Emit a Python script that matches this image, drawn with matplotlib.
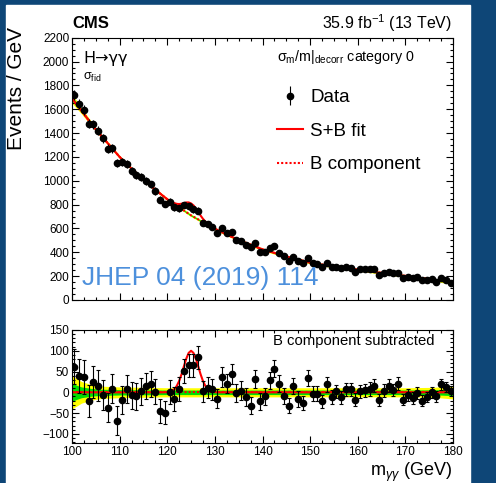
import numpy as np
import matplotlib.pyplot as plt
from matplotlib.ticker import MultipleLocator
from matplotlib.lines import Line2D
from matplotlib.patches import Rectangle

plt.rcParams['font.family'] = ['Liberation Sans', 'DejaVu Sans']
plt.rcParams['mathtext.fontset'] = 'custom'
plt.rcParams['mathtext.rm'] = 'Liberation Sans'
plt.rcParams['mathtext.it'] = 'Liberation Sans:italic'
plt.rcParams['mathtext.bf'] = 'Liberation Sans:bold'

# diphoton mass bins, 1 GeV wide
mgg = np.arange(100.5, 180.0, 1.0)

events = [1720, 1645, 1595, 1480, 1475, 1420, 1355, 1270, 1272, 1148,
          1160, 1140, 1085, 1050, 1030, 1000, 970, 915, 840, 805,
          825, 778, 770, 797, 785, 760, 750, 648, 637, 610,
          565, 600, 565, 573, 505, 497, 462, 447, 475, 405,
          405, 433, 453, 397, 365, 330, 364, 330, 307, 350,
          307, 299, 280, 307, 274, 274, 265, 274, 265, 238,
          257, 257, 257, 257, 210, 229, 238, 224, 229, 187,
          196, 187, 190, 168, 168, 173, 154, 182, 168, 145]

# data minus background fit
resid = [62, 39, 37, -20, 24, 16, -6, -37, 9, -68,
         -18, 7, -7, -10, 2, 16, 19, 1, -46, -49,
         0, -16, 8, 51, 65, 65, 84, 2, 11, 7,
         -15, 37, 21, 45, -2, 4, -11, -32, 31, -22,
         -10, 29, 57, 21, -8, -32, 16, -16, -26, 35,
         -3, -3, -22, 19, -11, 2, -12, 7, 7, -18,
         2, 5, 8, 16, -18, 4, 16, 5, 21, -18,
         -7, -14, -2, -20, -11, 0, -10, 19, 13, 4]

# background component of the fit
bkg_mass = [100, 105, 110, 115, 120, 125, 130, 135, 140, 145, 150, 155, 160, 165, 170, 175, 180]
bkg_vals = [1690, 1430, 1200, 1005, 845, 710, 597, 503, 425, 365, 313, 280, 254, 227, 202, 175, 146]

# signal component
sig_mass = [119, 119.5, 120, 120.5, 121, 121.5, 122, 122.5, 123, 123.5, 124, 124.5, 125,
            125.5, 126, 126.5, 127, 127.5, 128, 128.5, 129, 129.5, 130, 130.5, 131]
sig_vals = [0, 0.2, 0.5, 1.5, 3.6, 7.8, 15.4, 27.2, 43.5, 62.6, 81.2, 94.9, 100,
            94.9, 81.2, 62.6, 43.5, 27.2, 15.4, 7.8, 3.6, 1.5, 0.5, 0.2, 0]

# background uncertainty bands (half widths)
band_mass = [100, 101, 102, 104, 106, 110, 120, 140, 160, 170, 176, 180]
band_2s = [40, 33, 26, 19, 15, 13, 11, 11, 11, 11, 12, 16]
band_1s = [22, 17, 13, 9.5, 7.5, 6.5, 5.5, 5.5, 5.5, 5.5, 6, 8]

events = np.array(events, dtype=float)
resid = np.array(resid, dtype=float)
err = np.sqrt(events)

m_line = np.union1d(np.union1d(bkg_mass, sig_mass), band_mass)
b_line = np.interp(m_line, bkg_mass, bkg_vals)
s_line = np.interp(m_line, sig_mass, sig_vals, left=0, right=0)
y2 = np.interp(m_line, band_mass, band_2s)
y1 = np.interp(m_line, band_mass, band_1s)

W, H = 496, 483
fig = plt.figure(figsize=(W / 100, H / 100), dpi=100, facecolor='#0e4677')
fig.patches.append(Rectangle((6 / W, 0), (470 - 6) / W, 1 - 5 / H,
                             transform=fig.transFigure, color='white', zorder=-10))

ax = fig.add_axes([72 / W, 1 - 300 / H, 381 / W, 262.3 / H])
ax2 = fig.add_axes([72 / W, 1 - 443 / H, 381 / W, 113 / H])

YEL = '#ffff00'
GRN = '#00e000'
RED = '#ff0000'

# upper panel
ax.fill_between(m_line, b_line - y2, b_line + y2, color=YEL, lw=0, zorder=1)
ax.fill_between(m_line, b_line - y1, b_line + y1, color=GRN, lw=0, zorder=1)
ax.plot(m_line, b_line, color=RED, lw=1.5, ls=(0, (1, 1)), zorder=2)
ax.plot(m_line, b_line + s_line, color=RED, lw=1.5, zorder=2)
data = ax.errorbar(mgg, events, yerr=err, fmt='o', color='black', ms=4.5,
                   elinewidth=0.8, capsize=0, zorder=3)
ax.set_xlim(100, 180)
ax.set_ylim(0, 2200)
ax.yaxis.set_major_locator(MultipleLocator(200))
ax.yaxis.set_minor_locator(MultipleLocator(50))

# lower panel
ax2.fill_between(m_line, -y2, y2, color=YEL, lw=0, zorder=1)
ax2.fill_between(m_line, -y1, y1, color=GRN, lw=0, zorder=1)
ax2.plot(m_line, np.zeros_like(m_line), color=RED, lw=1.5, ls=(0, (1, 1)), zorder=2)
ax2.plot(m_line, s_line, color=RED, lw=1.5, zorder=2)
ax2.errorbar(mgg, resid, yerr=err, fmt='o', color='black', ms=4.5,
             elinewidth=0.8, capsize=1.5, capthick=0.8, zorder=3)
ax2.set_xlim(100, 180)
ax2.set_ylim(-122, 150)
ax2.yaxis.set_major_locator(MultipleLocator(50))
ax2.yaxis.set_minor_locator(MultipleLocator(10))

for a in (ax, ax2):
    a.xaxis.set_major_locator(MultipleLocator(10))
    a.xaxis.set_minor_locator(MultipleLocator(2.5))
    a.tick_params(which='both', direction='in', top=True, right=True,
                  labelsize=8.5, width=0.8, pad=2)
    a.tick_params(which='major', length=5)
    a.tick_params(which='minor', length=2.5)
    for s in a.spines.values():
        s.set_linewidth(0.8)
ax.tick_params(labelbottom=False)

# legend
h_sb = Line2D([], [], color=RED, lw=1.5)
h_b = Line2D([], [], color=RED, lw=1.5, ls=(0, (1, 1)))
ax.legend([data, h_sb, h_b], ['Data', 'S+B fit', 'B component'],
          loc='upper left', bbox_to_anchor=(277 / W, 1 - 89 / H),
          bbox_transform=fig.transFigure, frameon=False, fontsize=13.5,
          handlelength=1.4, handletextpad=0.37, labelspacing=0.88,
          borderpad=0, borderaxespad=0)

# labels
fig.text(72 / W, 1 - 28.5 / H, 'CMS', fontsize=12, fontweight='bold', va='baseline')
fig.text(452 / W, 1 - 29.5 / H, r'35.9 fb$^{-1}$ (13 TeV)', fontsize=11.5,
         ha='right', va='baseline')
fig.text(83 / W, 1 - 63 / H, 'H→γγ', fontsize=11.5, va='baseline',
         family=['DejaVu Sans'])
fig.text(83 / W, 1 - 80 / H, r'σ$_{\rm fid}$', fontsize=9, va='baseline')
fig.text(277 / W, 1 - 61 / H, r'σ$_{\rm m}$/m$|_{\rm decorr}$ category 0', fontsize=10.3,
         va='baseline')
fig.text(17 / W, 1 - 88 / H, 'Events / GeV', fontsize=15, rotation=90,
         ha='center', va='center')
fig.text(82 / W, 1 - 278 / H, 'JHEP 04 (2019) 114', fontsize=19, color='#4d90dc',
         va='center')
fig.text(273 / W, 1 - 341 / H, 'B component subtracted', fontsize=10.7, va='center')
fig.text(452 / W, 1 - 476 / H, r'm$_{\gamma\gamma}$ (GeV)', fontsize=13, ha='right',
         va='baseline')

fig.savefig('out.png', dpi=100, facecolor=fig.get_facecolor())
